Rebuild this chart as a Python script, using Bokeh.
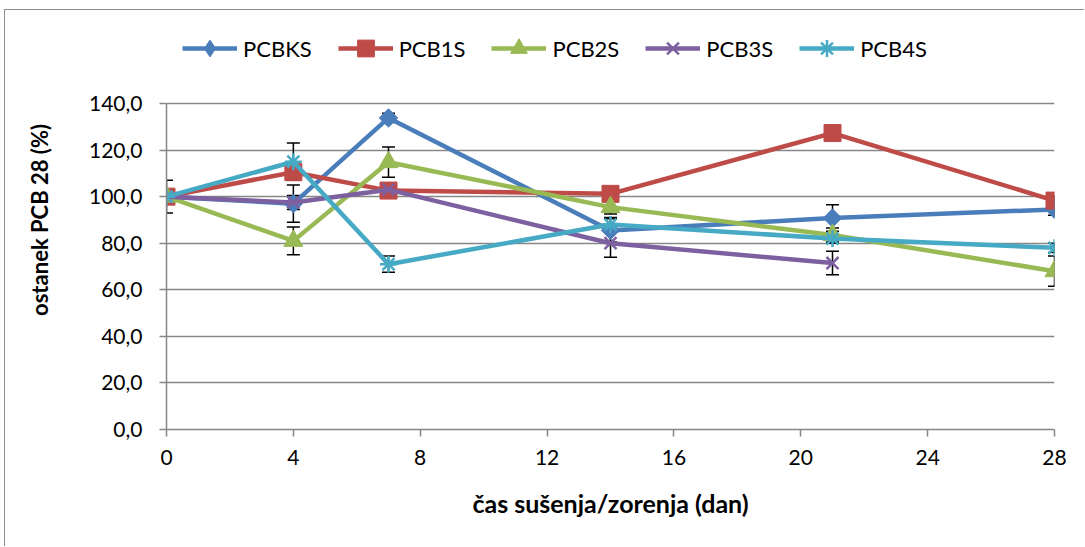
import numpy as np
from bokeh.plotting import figure
from bokeh.models import (ColumnDataSource, Whisker, TeeHead, Legend, LegendItem,
                          FixedTicker)
from bokeh.embed import file_html
from bokeh.resources import INLINE

# drying / ripening time (days)
days = [0, 4, 7, 14, 21, 28]

# residual PCB 28 (%) per sample series
series_names = ["PCBKS", "PCB1S", "PCB2S", "PCB3S", "PCB4S"]
pcbks = [100.0, 97.0, 133.8, 85.5, 90.8, 94.5]
pcb1s = [100.0, 110.5, 102.6, 101.2, 127.3, 98.3]
pcb2s = [100.0, 81.0, 114.8, 95.5, 83.5, 68.0]
pcb3s = [100.0, 97.5, 103.0, 80.0, 71.5, np.nan]
pcb4s = [100.0, 115.0, 71.0, 88.0, 82.0, 78.0]

# standard deviations (error bars)
err_ks = [3.0, 8.0, 2.0, 5.0, 5.7, 2.5]
err_1s = [7.0, 3.0, 2.0, 2.0, 2.0, 2.0]
err_2s = [2.0, 6.0, 6.5, 3.0, 3.0, 6.5]
err_3s = [2.0, 3.0, 2.0, 6.0, 5.0, np.nan]
err_4s = [2.0, 8.0, 3.5, 3.0, 2.0, 2.0]

y_ticks = [0, 20, 40, 60, 80, 100, 120, 140]
y_tick_labels = ["0,0", "20,0", "40,0", "60,0", "80,0", "100,0", "120,0", "140,0"]
x_ticks = [0, 4, 8, 12, 16, 20, 24, 28]

FONT = "Lato"
GRAY = "#878787"

# plot area: value axis 0..140 occupies the lower part, legend sits above it
Y_TOP = 179.94

p = figure(width=1080, height=537, output_backend="svg", toolbar_location=None,
           x_range=(0, 28), y_range=(0, Y_TOP),
           min_border_left=161, min_border_right=31,
           min_border_top=0, min_border_bottom=118,
           styles={"margin-left": "4px", "margin-top": "9px",
                   "border-left": "1px solid #8e8e8e",
                   "border-top": "1px solid #8e8e8e"})
p.outline_line_color = None
p.background_fill_color = "white"
p.border_fill_color = "white"

# axes
p.xaxis.ticker = FixedTicker(ticks=x_ticks)
p.yaxis.ticker = FixedTicker(ticks=y_ticks)
p.yaxis.bounds = (0, 140)
p.yaxis.major_label_overrides = {t: l for t, l in zip(y_ticks, y_tick_labels)}
for ax in (p.xaxis, p.yaxis):
    ax.axis_line_color = GRAY
    ax.axis_line_width = 1.5
    ax.major_tick_line_color = GRAY
    ax.major_tick_line_width = 1.5
    ax.major_tick_in = 0
    ax.major_tick_out = 7
    ax.minor_tick_line_color = None
    ax.major_label_text_font = FONT
    ax.major_label_text_font_size = "21px"
    ax.major_label_text_color = "black"
    ax.axis_label_text_font = FONT
    ax.axis_label_text_font_style = "bold"
    ax.axis_label_text_color = "black"
p.xaxis.axis_label_text_font_size = "25px"
p.yaxis.axis_label_text_font_size = "22px"
p.xaxis.major_label_standoff = 13
p.yaxis.major_label_standoff = 17
p.xaxis.axis_label = "čas sušenja/zorenja (dan)"
p.yaxis.axis_label = "ostanek PCB 28 (%)"
p.xaxis.axis_label_standoff = 20
p.yaxis.axis_label_standoff = 33

p.xgrid.grid_line_color = None
p.ygrid.grid_line_color = GRAY
p.ygrid.grid_line_width = 1.5

colors = ["#4A7EBB", "#BE4B48", "#98B954", "#7D60A0", "#46AAC5"]
values = [pcbks, pcb1s, pcb2s, pcb3s, pcb4s]
errors = [err_ks, err_1s, err_2s, err_3s, err_4s]
# (plot marker, size, angle, legend marker)
markers = [("square", 13, np.pi / 4, "diamond"), ("square", 17, 0, "square"),
           ("triangle", 19, 0, "triangle"), ("x", 17, 0, "x"),
           ("asterisk", 17, 0, "asterisk")]

items = []
for name, vals, col, (mk, sz, ang, lmk) in zip(series_names, values, colors, markers):
    v = np.array(vals, dtype=float)
    ok = ~np.isnan(v)
    src = ColumnDataSource(dict(x=np.array(days)[ok], y=v[ok]))
    lw = 2.5 if mk in ("x", "asterisk") else 1
    ln = p.line("x", "y", source=src, line_color=col, line_width=4.5)
    key = None
    if lmk != mk:
        # narrower key symbol for the legend, hidden beneath the rotated square
        key = p.scatter("x", "y", source=src, marker=lmk, size=16,
                        fill_color=col, line_color=col, line_width=lw)
    sc = p.scatter("x", "y", source=src, marker=mk, size=sz, angle=ang,
                   fill_color=col, line_color=col, line_width=lw)
    items.append(LegendItem(label=name, renderers=[ln, key if key is not None else sc]))

# error bars
for vals, errs in zip(values, errors):
    v = np.array(vals, dtype=float)
    e = np.array(errs, dtype=float)
    ok = ~np.isnan(v)
    esrc = ColumnDataSource(dict(x=np.array(days, dtype=float)[ok],
                                 lo=(v - e)[ok], hi=(v + e)[ok]))
    w = Whisker(base="x", lower="lo", upper="hi", source=esrc,
                line_color="black", line_width=1.5,
                upper_head=TeeHead(size=13, line_color="black", line_width=1.5),
                lower_head=TeeHead(size=13, line_color="black", line_width=1.5))
    p.add_layout(w)

legend = Legend(items=items, orientation="horizontal", location=(16, 360),
                glyph_width=55, glyph_height=42, label_standoff=6, spacing=26,
                padding=0, margin=0, border_line_alpha=0, background_fill_alpha=0,
                label_text_font=FONT, label_text_font_size="22px",
                label_text_color="black")
p.add_layout(legend)

open("out.html", "w").write(file_html(p, INLINE))
